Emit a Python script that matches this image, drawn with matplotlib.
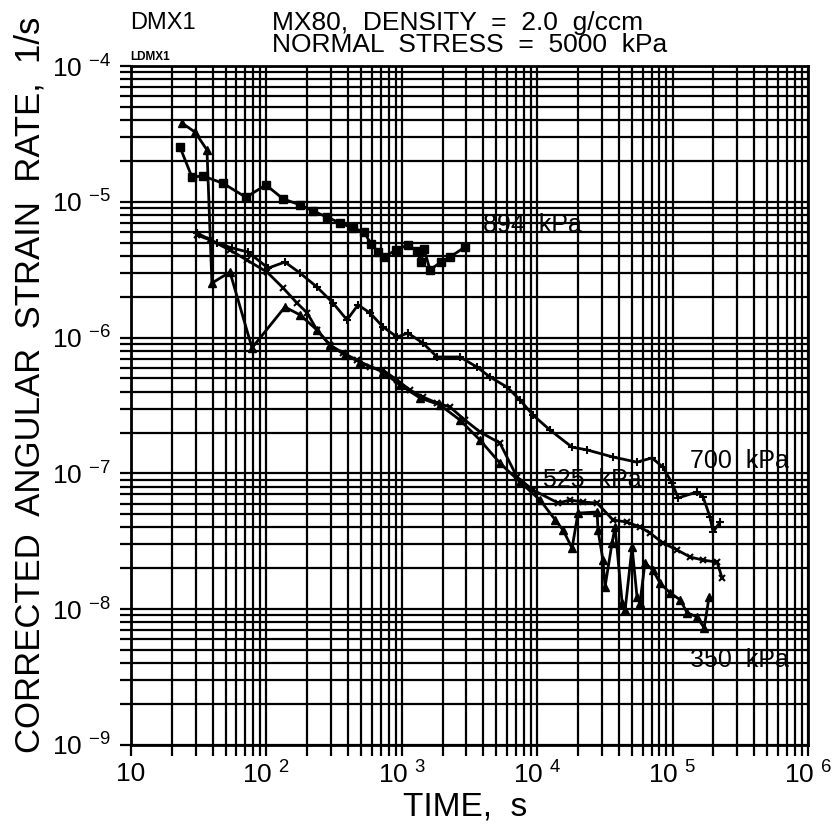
import numpy as np
import matplotlib.pyplot as plt
from matplotlib.ticker import LogLocator, NullFormatter, FuncFormatter, FixedLocator

plt.rcParams['font.family'] = ['Liberation Sans', 'DejaVu Sans']
plt.rcParams['mathtext.fontset'] = 'custom'
plt.rcParams['mathtext.rm'] = 'Liberation Sans'
plt.rcParams['mathtext.it'] = 'Liberation Sans'

# shear tests, normal stress 5000 kPa: time (s) vs corrected angular strain rate (1/s)
t_894 = [23.0, 28.2, 34.0, 47.7, 70.6, 99.3, 133, 177, 221, 280, 350, 436, 526, 593,
         667, 739, 906, 1110, 1295, 1387, 1460, 1615, 1950, 2270, 2930]
r_894 = [2.53e-5, 1.52e-5, 1.55e-5, 1.37e-5, 1.08e-5, 1.33e-5, 1.05e-5, 9.5e-6, 8.55e-6,
         7.72e-6, 6.98e-6, 6.41e-6, 6.0e-6, 4.89e-6, 4.27e-6, 3.92e-6, 4.42e-6, 4.81e-6,
         4.35e-6, 3.61e-6, 4.49e-6, 3.15e-6, 3.61e-6, 3.92e-6, 4.65e-6]

t_700 = [30.7, 43.2, 55.7, 73.1, 103, 137, 177, 236, 310, 394, 475, 582, 726, 922, 1110,
         1435, 1820, 2690, 3590, 4490, 5990, 7470, 9310, 12400, 18100, 23300, 36300,
         54600, 70400, 84900, 98900, 110000, 151000, 168000, 189000, 199000, 224000]
r_700 = [5.89e-6, 4.97e-6, 4.57e-6, 4.27e-6, 3.25e-6, 3.60e-6, 2.99e-6, 2.36e-6, 1.80e-6,
         1.35e-6, 1.74e-6, 1.52e-6, 1.20e-6, 1.01e-6, 1.08e-6, 9.1e-7, 7.2e-7, 7.2e-7,
         6.07e-7, 5.12e-7, 4.32e-7, 3.47e-7, 2.69e-7, 2.09e-7, 1.56e-7, 1.49e-7, 1.32e-7,
         1.21e-7, 1.30e-7, 1.11e-7, 8.5e-8, 6.59e-8, 7.3e-8, 6.7e-8, 4.77e-8, 3.70e-8, 4.38e-8]

t_525 = [30.7, 38.3, 53.8, 71.9, 101, 133, 168, 200, 236, 295, 368, 467, 582, 726, 922,
         1150, 1435, 1820, 2270, 2930, 3780, 5310, 7100, 9310, 14300, 17500, 21800, 27700,
         36300, 46100, 57500, 68100, 84900, 108000, 135000, 168000, 213000, 232000]
r_525 = [5.69e-6, 5.24e-6, 4.41e-6, 3.72e-6, 3.04e-6, 2.32e-6, 1.80e-6, 1.52e-6, 1.14e-6,
         8.8e-7, 7.7e-7, 6.84e-7, 6.07e-7, 5.77e-7, 4.87e-7, 4.11e-7, 3.65e-7, 3.30e-7,
         3.08e-7, 2.47e-7, 2.02e-7, 1.67e-7, 9.4e-8, 7.55e-8, 6.05e-8, 6.37e-8, 6.15e-8,
         6.05e-8, 4.54e-8, 4.38e-8, 4.03e-8, 3.64e-8, 3.07e-8, 2.73e-8, 2.42e-8, 2.30e-8,
         2.22e-8, 1.70e-8]

t_350 = [23.8, 29.7, 36.4, 39.6, 53.8, 78.3, 137, 177, 236, 295, 381, 491, 726, 970, 1365,
         1915, 2690, 3780, 5310, 7460, 10500, 13600, 15500, 18100, 20000, 27700, 28100,
         30600, 31700, 35700, 37600, 42400, 44600, 50200, 54600, 57400, 62500, 71600,
         80700, 95700, 114000, 128000, 151000, 171000, 186000]
r_350 = [3.80e-5, 3.26e-5, 2.41e-5, 2.52e-6, 3.04e-6, 8.4e-7, 1.68e-6, 1.47e-6, 1.14e-6,
         8.8e-7, 7.45e-7, 6.61e-7, 5.58e-7, 4.48e-7, 3.59e-7, 3.19e-7, 2.47e-7, 1.76e-7,
         1.19e-7, 8.65e-8, 6.37e-8, 4.54e-8, 3.83e-8, 2.82e-8, 5.10e-8, 5.20e-8, 3.83e-8,
         2.30e-8, 1.46e-8, 3.07e-8, 4.03e-8, 1.11e-8, 9.9e-9, 2.87e-8, 1.23e-8, 1.11e-8,
         2.19e-8, 1.94e-8, 1.56e-8, 1.32e-8, 1.17e-8, 9.4e-9, 8.8e-9, 7.3e-9, 1.23e-8]

curve_labels = ['894  kPa', '700  kPa', '525  kPa', '350  kPa']
label_pos = [(3980, 6.75e-6), (1.35e5, 1.23e-7), (1.1e4, 8.9e-8), (1.35e5, 4.2e-9)]

x_major = [1e1, 1e2, 1e3, 1e4, 1e5, 1e6]
y_major = [1e-9, 1e-8, 1e-7, 1e-6, 1e-5, 1e-4]

fig = plt.figure(figsize=(8.34, 8.25), dpi=100)
ax = fig.add_axes([131 / 834, 80 / 825, 677 / 834, 679 / 825])
ax.set_xscale('log')
ax.set_yscale('log')
ax.set_xlim(10, 1e6)
ax.set_ylim(1e-9, 1e-4)

ax.xaxis.set_major_locator(FixedLocator(x_major))
ax.yaxis.set_major_locator(FixedLocator(y_major))
ax.xaxis.set_minor_locator(LogLocator(base=10, subs=np.arange(2, 10), numticks=20))
ax.yaxis.set_minor_locator(LogLocator(base=10, subs=np.arange(2, 10), numticks=20))
ax.xaxis.set_minor_formatter(NullFormatter())
ax.yaxis.set_minor_formatter(NullFormatter())


def xfmt(v, pos):
    e = int(round(np.log10(v)))
    return '10' if e == 1 else '10 $^{%d}$' % e


def yfmt(v, pos):
    e = int(round(np.log10(v)))
    return '10 $^{%d}$' % e


ax.xaxis.set_major_formatter(FuncFormatter(xfmt))
ax.yaxis.set_major_formatter(FuncFormatter(yfmt))
ax.grid(True, which='both', color='black', lw=1.6)
ax.tick_params(which='both', direction='out', length=8, width=1.6, colors='black',
               labelsize=19)
ax.tick_params(axis='x', pad=4)
ax.tick_params(axis='y', pad=6)
for s in ax.spines.values():
    s.set_linewidth(2)

kw = dict(color='black', lw=2, clip_on=False)
ax.plot(t_894, r_894, marker='s', ms=6, **kw)
ax.plot(t_700, r_700, marker='+', ms=6, mew=1.5, **kw)
ax.plot(t_525, r_525, marker='x', ms=4, mew=1.5, **kw)
ax.plot(t_350, r_350, marker='^', ms=6, **kw)

for txt, (x, y) in zip(curve_labels, label_pos):
    ax.text(x, y, txt, fontsize=18, va='center', ha='left')

fig.text(130 / 834, 1 - 23 / 825, 'DMX1', fontsize=17, va='center', ha='left')
fig.text(272 / 834, 1 - 23 / 825, 'MX80,  DENSITY  =  2.0  g/ccm', fontsize=19,
         va='center', ha='left')
fig.text(272 / 834, 1 - 45 / 825, 'NORMAL  STRESS  =  5000  kPa', fontsize=19,
         va='center', ha='left')
fig.text(130 / 834, 1 - 57 / 825, 'LDMX1', fontsize=8.5, fontweight='bold',
         va='center', ha='left')

fig.text(30 / 834, 1 - 385 / 825, 'CORRECTED  ANGULAR  STRAIN  RATE,  1/s', rotation=90,
         fontsize=25, va='center', ha='center')
fig.text(465 / 834, 1 - 807 / 825, 'TIME,  s', fontsize=24, va='center', ha='center')

fig.savefig('out.png', dpi=100, facecolor='white')
